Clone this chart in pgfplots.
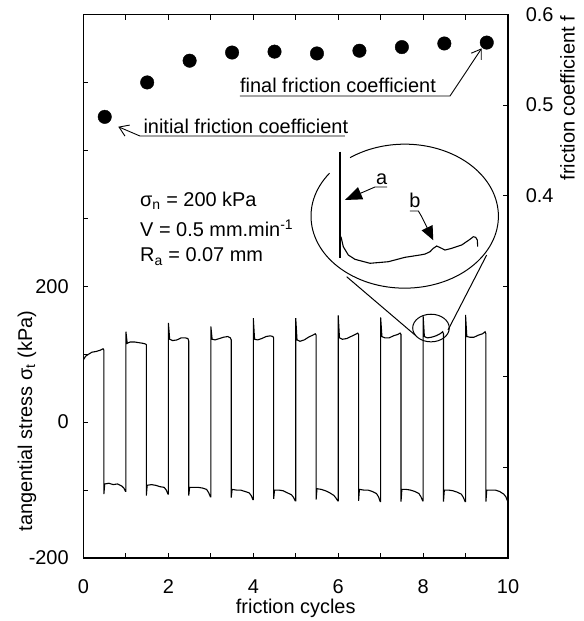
\documentclass[border=0pt]{standalone}
\usepackage{fontspec}
\setmainfont{Liberation Sans}
\usepackage{pgfplots}
\pgfplotsset{compat=1.18}
\usetikzlibrary{arrows.meta}

\newcommand{\lbl}{\fontsize{20}{23}\selectfont}

\begin{document}
\lbl
\begin{tikzpicture}
\path[use as bounding box] (-83.5bp,-63bp) rectangle (500.5bp,558bp);
\pgfplotsset{
  common/.style={
    width=424.5bp, height=543.5bp, scale only axis,
    at={(0,0)}, anchor=south west,
    xmin=0, xmax=10,
    tick align=inside, major tick length=5bp,
    every tick/.style={black, line width=0.9bp},
    axis line style={line width=1.2bp},
    tick label style={font=\lbl},
    label style={font=\lbl},
  }
}
% tangential stress (left axis)
\begin{axis}[common,
  ymin=-200, ymax=600,
  xtick={0,1,...,10}, xticklabels={0,,2,,4,,6,,8,,10},
  ytick={-200,-100,0,100,200,300,400,500,600},
  yticklabels={-200,,0,,200,,,,},
  xtick pos=both, ytick pos=left,
  x tick label style={yshift=-15bp},
  y tick label style={xshift=-8bp},
  xlabel={friction cycles},
  xlabel style={at={(axis description cs:0.5,0)}, anchor=base, yshift=-55bp},
  ylabel={tangential stress σ\textsubscript{t} (kPa)},
  ylabel style={at={(axis description cs:-0.1331,0.252)}, anchor=center},
  clip=false,
]
\addplot[black, line width=1.1bp] coordinates {
(0,92) (0.05,97) (0.12,100) (0.2,103) (0.3,104) (0.4,106) (0.46,108) (0.48,106)
(0.48,-106) (0.50,-91) (0.6,-90) (0.7,-92) (0.8,-91) (0.9,-94) (0.95,-97) (0.99,-102)
(1.0,-102) (1.0,133) (1.03,116) (1.1,118) (1.2,118) (1.3,117) (1.4,116) (1.46,115) (1.48,114)
(1.48,-108) (1.5,-93) (1.6,-92) (1.7,-93) (1.8,-95) (1.9,-96) (1.95,-100) (1.99,-106)
(2.0,-106) (2.0,146) (2.03,122) (2.1,120) (2.2,121) (2.3,124) (2.4,124) (2.46,123) (2.48,119)
(2.48,-108) (2.5,-96) (2.6,-96) (2.7,-96) (2.8,-97) (2.9,-99) (2.95,-104) (2.99,-110)
(3.0,-110) (3.0,141) (3.03,122) (3.1,121) (3.2,123) (3.3,125) (3.4,126) (3.46,124) (3.48,121)
(3.48,-111) (3.5,-99) (3.6,-100) (3.7,-100) (3.8,-102) (3.9,-104) (3.95,-108) (3.99,-114)
(4.0,-114) (4.0,153) (4.03,122) (4.1,121) (4.2,123) (4.3,126) (4.4,127) (4.46,126) (4.48,124)
(4.48,-113) (4.5,-100) (4.6,-100) (4.7,-101) (4.8,-104) (4.9,-107) (4.95,-111) (4.99,-116)
(5.0,-116) (5.0,153) (5.03,121) (5.1,119) (5.2,121) (5.3,125) (5.4,128) (5.46,130) (5.48,128)
(5.48,-114) (5.5,-98) (5.6,-99) (5.7,-101) (5.8,-104) (5.9,-108) (5.95,-112) (5.99,-116)
(6.0,-116) (6.0,157) (6.03,124) (6.1,122) (6.2,123) (6.3,126) (6.4,129) (6.46,131) (6.48,129)
(6.48,-116) (6.5,-99) (6.6,-100) (6.7,-100) (6.8,-102) (6.9,-105) (6.95,-110) (6.99,-117)
(7.0,-117) (7.0,154) (7.03,126) (7.1,124) (7.2,124) (7.3,127) (7.4,129) (7.46,131) (7.48,129)
(7.48,-117) (7.5,-99) (7.6,-99) (7.7,-100) (7.8,-102) (7.9,-105) (7.95,-110) (7.99,-116)
(8.0,-116) (8.0,157) (8.03,126) (8.1,124) (8.2,125) (8.3,127) (8.4,130) (8.46,133) (8.48,130)
(8.48,-117) (8.5,-100) (8.6,-100) (8.7,-101) (8.8,-103) (8.9,-106) (8.95,-111) (8.99,-117)
(9.0,-117) (9.0,158) (9.03,126) (9.1,125) (9.2,125) (9.3,128) (9.4,130) (9.46,133) (9.48,130)
(9.48,-117) (9.5,-100) (9.6,-100) (9.7,-100) (9.8,-102) (9.9,-106) (9.95,-110) (10.0,-118)
};
% magnified detail of the plateau near x = 8
\addplot[black, line width=1.5bp] coordinates {(6.04,398) (6.04,241)};
\addplot[black, line width=1.1bp] coordinates {
(6.066,272.9) (6.12,258.2) (6.238,246) (6.396,239.6) (6.749,233.8) (7.18,236.1)
(7.574,242.6) (7.927,246) (8.045,247.4) (8.163,250.8) (8.24,255.8) (8.32,259.2)
(8.438,255.8) (8.516,253.3) (8.674,255.8) (8.909,260.7) (9.105,269.1) (9.183,272.9)
(9.239,272) (9.277,268) (9.286,258.2)
};
\draw[line width=1bp] (axis cs:5.797,366.5) arc[start angle=143.3, end angle=485.6, x radius=93.7bp, y radius=72bp];
\draw[line width=1bp] (axis cs:8.186,138.5) ellipse[x radius=18.3bp, y radius=13.8bp];
\draw[line width=1bp] (axis cs:6.20,214.0) -- (axis cs:7.81,128.2);
\draw[line width=1bp] (axis cs:9.498,246) -- (axis cs:8.587,135.6);
% inset labels
\node[anchor=base, inner sep=0] at (axis cs:7.025,350.5) {a};
\draw[line width=0.9bp, -{Triangle[length=17bp,width=13bp]}] (axis cs:7.15,346.1) -- (axis cs:6.867,346.1) -- (axis cs:6.16,327);
\node[anchor=base, inner sep=0] at (axis cs:7.81,315.2) {b};
\draw[line width=0.9bp, -{Triangle[length=14bp,width=12bp]}] (axis cs:7.69,310.7) -- (axis cs:7.89,310.7) -- (axis cs:7.967,302.3) -- (axis cs:8.24,267.7);
% test conditions
\node[anchor=base west, inner sep=0] at (axis cs:1.331,317.9) {σ\textsubscript{n} = 200 kPa};
\node[anchor=base west, inner sep=0] at (axis cs:1.331,272.5) {V = 0.5 mm.min\textsuperscript{-1}};
\node[anchor=base west, inner sep=0] at (axis cs:1.331,235.8) {R\textsubscript{a} = 0.07 mm};
% friction coefficient annotations
\node[anchor=base west, inner sep=0] at (axis cs:3.686,484.9) {final friction coefficient};
\draw[line width=0.9bp, -{Straight Barb[length=9bp,width=12bp]}] (axis cs:3.686,480) -- (axis cs:8.634,480) -- (axis cs:9.38,550.2);
\node[anchor=base west, inner sep=0] at (axis cs:1.41,425.1) {initial friction coefficient};
\draw[line width=0.9bp, -{Straight Barb[length=9bp,width=12bp]}] (axis cs:6.16,421.1) -- (axis cs:1.331,421.1) -- (axis cs:0.82,434.8);
\end{axis}
% friction coefficient (right axis)
\begin{axis}[common,
  ymin=0, ymax=0.6,
  axis x line=none, axis y line*=right,
  ytick={0,0.1,0.2,0.3,0.4,0.5,0.6},
  yticklabels={,,,,0.4,0.5,0.6},
  y tick label style={xshift=11bp},
  ylabel={friction coefficient f},
  ylabel style={at={(axis description cs:1.1402,0.846)}, anchor=center},
]
\addplot[only marks, mark=*, mark size=6.75bp, black] coordinates {
(0.5,0.487) (1.5,0.525) (2.5,0.549) (3.5,0.558) (4.5,0.559)
(5.5,0.557) (6.5,0.560) (7.5,0.564) (8.5,0.568) (9.5,0.569)
};
\end{axis}
\end{tikzpicture}
\end{document}
